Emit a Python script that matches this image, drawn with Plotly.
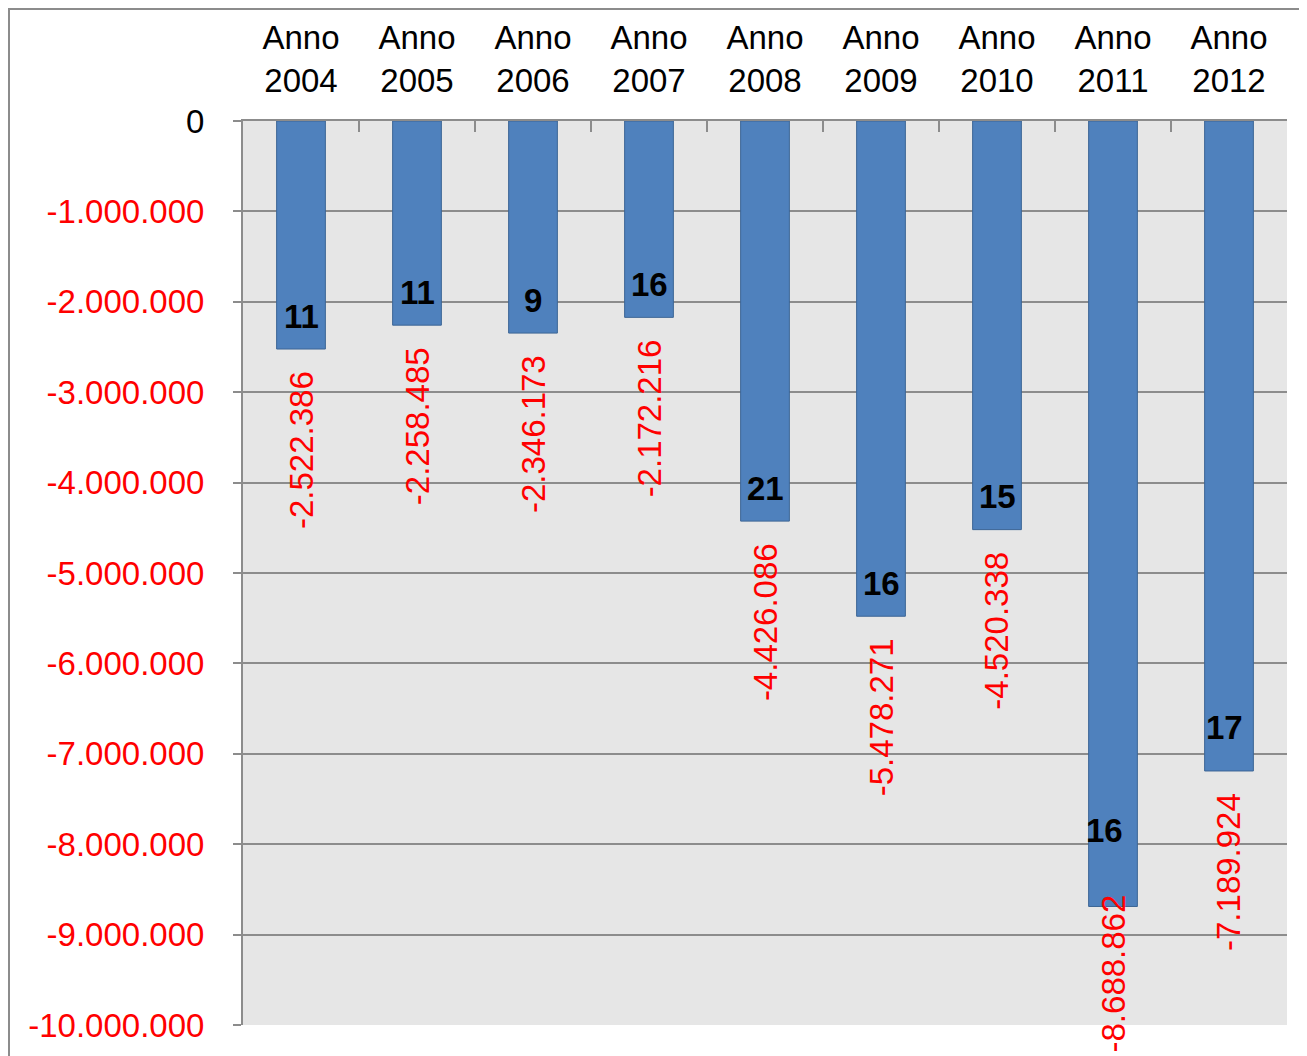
import plotly.graph_objects as go

categories = ["Anno<br>2004", "Anno<br>2005", "Anno<br>2006", "Anno<br>2007", "Anno<br>2008",
              "Anno<br>2009", "Anno<br>2010", "Anno<br>2011", "Anno<br>2012"]
values = [-2522386, -2258485, -2346173, -2172216, -4426086, -5478271, -4520338, -8688862, -7189924]
counts = [11, 11, 9, 16, 21, 16, 15, 16, 17]
value_labels = ["-2.522.386", "-2.258.485", "-2.346.173", "-2.172.216", "-4.426.086",
                "-5.478.271", "-4.520.338", "-8.688.862", "-7.189.924"]
tick_vals = [0, -1000000, -2000000, -3000000, -4000000, -5000000, -6000000, -7000000,
             -8000000, -9000000, -10000000]
tick_text = ['<span style="color:black">0</span>', "-1.000.000", "-2.000.000", "-3.000.000",
             "-4.000.000", "-5.000.000", "-6.000.000", "-7.000.000", "-8.000.000",
             "-9.000.000", "-10.000.000"]

# small pixel nudges for label placement (style, not data)
count_nudge = {7: (-9, 76), 8: (-5, 43)}
value_nudge = {7: 14}

FONT = "Liberation Sans, Arial, sans-serif"

W, H = 1299, 1048
ML, MT, PW, PH = 235, 113, 1044, 904

fig = go.Figure()
fig.add_trace(go.Bar(
    x=categories, y=values, width=0.42,
    marker=dict(color="#4f81bd", line=dict(color="#3c6595", width=1)),
    hoverinfo="skip",
))

annotations = []
for i, (c, v, n, lab) in enumerate(zip(categories, values, counts, value_labels)):
    xs, ys = count_nudge.get(i, (0, 33))
    annotations.append(dict(
        x=c, y=v, xref="x", yref="y", text=f"<b>{n}</b>", showarrow=False,
        font=dict(family=FONT, size=33, color="black"),
        xanchor="center", yanchor="middle", xshift=xs, yshift=ys,
    ))
    annotations.append(dict(
        x=c, y=v, xref="x", yref="y", text=lab, showarrow=False, textangle=-90,
        font=dict(family=FONT, size=33, color="#ff0000"),
        xanchor="center", yanchor="top", yshift=value_nudge.get(i, -20),
    ))

fig.update_layout(
    width=W, height=H,
    margin=dict(l=ML, r=W - ML - PW, t=MT, b=H - MT - PH),
    paper_bgcolor="white",
    plot_bgcolor="#e6e6e6",
    showlegend=False,
    annotations=annotations,
    font=dict(family=FONT),
    shapes=[dict(type="rect", xref="paper", yref="paper",
                 x0=(1 - ML) / PW, x1=1.05, y0=-0.06, y1=(MT + PH - 1) / PH,
                 line=dict(color="#8c8c8c", width=2), fillcolor="rgba(0,0,0,0)", layer="below")],
)

fig.update_xaxes(
    side="top", type="category",
    tickfont=dict(family=FONT, size=33, color="black"),
    ticks="inside", ticklen=11, tickcolor="#8c8c8c", tickwidth=2,
    tickson="boundaries",
    showline=True, linecolor="#8c8c8c", linewidth=2,
    showgrid=False, zeroline=False,
    ticklabelstandoff=14,
)
fig.update_yaxes(
    range=[-10000000, 0],
    tickvals=tick_vals, ticktext=tick_text,
    tickfont=dict(family=FONT, size=33, color="#ff0000"),
    ticks="outside", ticklen=8, tickcolor="#8c8c8c", tickwidth=2,
    showline=True, linecolor="#8c8c8c", linewidth=2,
    showgrid=True, gridcolor="#8c8c8c", gridwidth=2,
    zeroline=False,
    ticklabelstandoff=22,
)

fig.write_html("out.html")
